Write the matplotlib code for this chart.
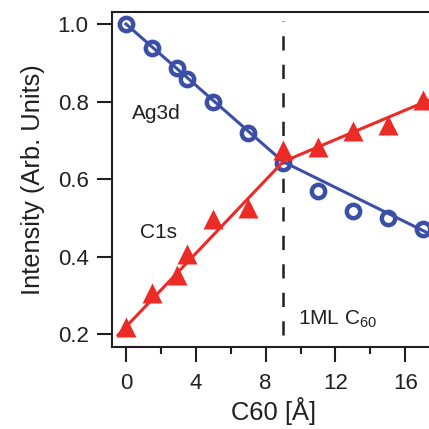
import matplotlib
matplotlib.use("Agg")
import matplotlib.pyplot as plt

plt.rcParams['font.family'] = ['Liberation Sans', 'DejaVu Sans']
plt.rcParams['mathtext.fontset'] = 'custom'
plt.rcParams['mathtext.rm'] = 'Liberation Sans'
plt.rcParams['mathtext.default'] = 'regular'

# C60 coverage (Å) and normalised core-level intensities
thickness = [0, 1.5, 2.9, 3.5, 5.0, 7.0, 9.0, 11.0, 13.0, 15.0, 17.0]
ag3d = [1.0, 0.939, 0.886, 0.858, 0.800, 0.718, 0.641, 0.570, 0.519, 0.499, 0.471]
c1s = [0.220, 0.307, 0.353, 0.407, 0.497, 0.525, 0.675, 0.684, 0.725, 0.740, 0.804]

# Piecewise linear fits (break at one monolayer)
ag_fit_x = [0, 9, 17.8]
ag_fit_y = [1.0, 0.645, 0.450]
c_fit_x = [-0.45, 9, 17.8]
c_fit_y = [0.198, 0.645, 0.812]

monolayer = 9.0
xticks = [0, 4, 8, 12, 16]
yticks = [0.2, 0.4, 0.6, 0.8, 1.0]

blue = '#3a4fa5'
red = '#ec2a26'
ink = '#231f20'

fig = plt.figure(figsize=(4.29, 4.29), dpi=100)
ax = fig.add_axes([112 / 429, 82 / 429, 324 / 429, 335.3 / 429])

ax.plot([monolayer, monolayer], [0.198, 1.008], color=ink, lw=1.8,
        dashes=(5.7, 5.7), zorder=1)

ax.plot(ag_fit_x, ag_fit_y, color=blue, lw=2.2, zorder=2)
ax.plot(thickness, ag3d, linestyle='none', marker='o', ms=9.6,
        mfc='none', mec=blue, mew=3.2, zorder=3)

ax.plot(c_fit_x, c_fit_y, color=red, lw=2.2, zorder=4)
ax.plot(thickness, c1s, linestyle='none', marker='^', ms=14,
        mfc=red, mec='none', zorder=5)

ax.set_xlim(-0.8, 17.76)
ax.set_ylim(0.1673, 1.0317)
ax.set_xticks(xticks)
ax.set_xticks([2, 6, 10, 14], minor=True)
ax.set_yticks(yticks)
ax.set_xticklabels([str(t) for t in xticks])
ax.set_yticklabels([f'{t:.1f}' for t in yticks])

for s in ax.spines.values():
    s.set_linewidth(1.5)
    s.set_color(ink)

ax.tick_params(axis='both', which='major', direction='out', width=1.5,
               color=ink, labelcolor=ink, labelsize=16)
ax.tick_params(axis='x', which='major', length=10.8, pad=8)
ax.tick_params(axis='x', which='minor', length=5, width=1.5, color=ink)
ax.tick_params(axis='y', which='major', length=10.8, pad=6)

ax.set_xlabel('C60 [Å]', fontsize=18.4, color=ink, labelpad=2)
ax.set_ylabel('Intensity (Arb. Units)', fontsize=18.4, color=ink, labelpad=9)

ax.text(0.33, 0.754, 'Ag3d', fontsize=15, color=ink, va='baseline')
ax.text(0.80, 0.4475, 'C1s', fontsize=15, color=ink, va='baseline')
ax.text(9.85, 0.226, '1ML C$_{60}$', fontsize=15, color=ink, va='baseline')

fig.savefig('out.png', dpi=100)
